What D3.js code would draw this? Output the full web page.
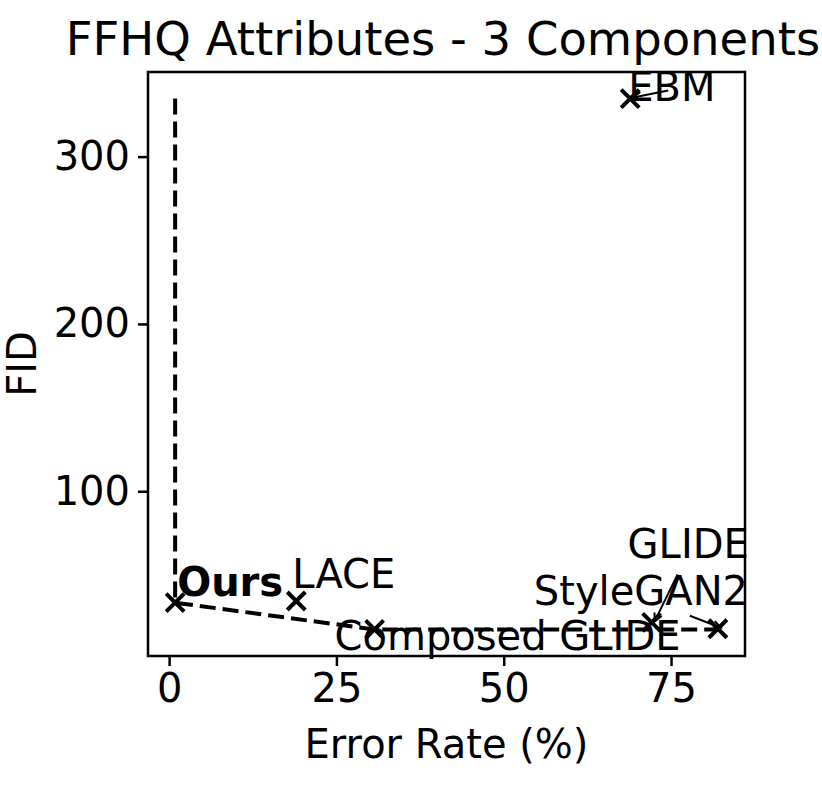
<!DOCTYPE html>
<html>
<head>
<meta charset="utf-8">
<script src="https://cdn.jsdelivr.net/npm/d3@7"></script>
<style>
  html, body { margin: 0; padding: 0; background: #fff; }
  svg { display: block; font-family: "DejaVu Sans", sans-serif; }
</style>
</head>
<body>
<svg id="chart" width="822" height="787"></svg>
<script>
// ---- data ----
const methods   = ["Ours", "LACE", "Composed GLIDE", "GLIDE", "StyleGAN2", "EBM"];
const errorRate = [0.9, 19.0, 30.7, 72.1, 82.0, 68.9];
const fid       = [33.4, 34.4, 17.4, 21.6, 17.8, 334.7];
const xTicks    = [0, 25, 50, 75];
const yTicks    = [100, 200, 300];
const title     = "FFHQ Attributes - 3 Components";
const xLabel    = "Error Rate (%)";
const yLabel    = "FID";

// ---- layout (label placement relative to each point, in px) ----
const labelLayout = {
  "Ours":           { dx: 2,   dy: -7,  bold: true,  arrow: false },
  "LACE":           { dx: -4,  dy: -13, bold: false, arrow: false },
  "Composed GLIDE": { dx: -40, dy: 21,  bold: false, arrow: false },
  "GLIDE":          { dx: -24, dy: -64, bold: false, arrow: { fx: 26, fy: -48 } },
  "StyleGAN2":      { dx: -184,dy: -24, bold: false, arrow: { fx: -28, fy: -13 } },
  "EBM":            { dx: -2,  dy: 2,   bold: false, arrow: { fx: 38, fy: -8 } }
};

const svg = d3.select("#chart");
const M = { left: 148, right: 745, top: 72, bottom: 656 };

const pts = methods.map((m, i) => ({ name: m, x: errorRate[i], y: fid[i] }));
const xExt = d3.extent(errorRate), yExt = d3.extent(fid);
const xPad = (xExt[1] - xExt[0]) * 0.05, yPad = (yExt[1] - yExt[0]) * 0.05;
const x = d3.scaleLinear().domain([xExt[0] - xPad, xExt[1] + xPad]).range([M.left, M.right]);
const y = d3.scaleLinear().domain([yExt[0] - yPad, yExt[1] + yPad]).range([M.bottom, M.top]);

// axes
const xAxis = svg.append("g").attr("transform", `translate(0,${M.bottom})`)
  .call(d3.axisBottom(x).tickValues(xTicks).tickSize(10).tickPadding(8).tickFormat(d3.format("d")));
const yAxis = svg.append("g").attr("transform", `translate(${M.left},0)`)
  .call(d3.axisLeft(y).tickValues(yTicks).tickSize(10).tickPadding(8).tickFormat(d3.format("d")));
[xAxis, yAxis].forEach(g => {
  g.select(".domain").remove();
  g.selectAll(".tick line").attr("stroke", "#000").attr("stroke-width", 2.5);
  g.selectAll(".tick text").attr("fill", "#000").style("font-size", "40px")
    .style("font-family", "DejaVu Sans");
});

// frame
svg.append("rect").attr("x", M.left).attr("y", M.top)
  .attr("width", M.right - M.left).attr("height", M.bottom - M.top)
  .attr("fill", "none").attr("stroke", "#000").attr("stroke-width", 2.5);

// pareto front (non-dominated points), extended to max FID and max error
const front = pts.filter(p => !pts.some(q => q !== p && q.x <= p.x && q.y <= p.y))
  .sort((a, b) => a.x - b.x);
const lineData = [
  { x: front[0].x, y: yExt[1] },
  ...front,
  { x: xExt[1], y: front[front.length - 1].y }
];
svg.append("path").datum(lineData)
  .attr("d", d3.line().x(d => x(d.x)).y(d => y(d.y)))
  .attr("fill", "none").attr("stroke", "#000").attr("stroke-width", 4)
  .attr("stroke-dasharray", "16 7");

// markers
const xSym = { draw(ctx, size) { const r = Math.sqrt(size) / 2;
  ctx.moveTo(-r, -r); ctx.lineTo(r, r); ctx.moveTo(-r, r); ctx.lineTo(r, -r); } };
svg.append("g").selectAll("path").data(pts).join("path")
  .attr("transform", d => `translate(${x(d.x)},${y(d.y)})`)
  .attr("d", d3.symbol().type(xSym).size(324))
  .attr("fill", "none").attr("stroke", "#000").attr("stroke-width", 4);

// arrow marker
svg.append("defs").append("marker").attr("id", "ah")
  .attr("viewBox", "-10 -6 12 12").attr("refX", 0).attr("refY", 0)
  .attr("markerWidth", 12).attr("markerHeight", 12).attr("markerUnits", "userSpaceOnUse")
  .attr("orient", "auto")
  .append("path").attr("d", "M-8,-4 L0,0 L-8,4").attr("fill", "none")
  .attr("stroke", "#000").attr("stroke-width", 2);

// labels
const lab = svg.append("g");
pts.forEach(p => {
  const L = labelLayout[p.name];
  const px = x(p.x), py = y(p.y);
  if (L.arrow) {
    lab.append("line").attr("x1", px + L.arrow.fx).attr("y1", py + L.arrow.fy)
      .attr("x2", px + 3).attr("y2", py - 1)
      .attr("stroke", "#000").attr("stroke-width", 2)
      .attr("marker-end", "url(#ah)");
  }
  lab.append("text").attr("x", px + L.dx).attr("y", py + L.dy)
    .style("font-size", "40px").style("font-weight", L.bold ? "bold" : "normal")
    .attr("fill", "#000").text(p.name);
});

// titles
svg.append("text").attr("x", 443).attr("y", 55)
  .attr("text-anchor", "middle").style("font-size", "46.5px").text(title);
svg.append("text").attr("x", (M.left + M.right) / 2).attr("y", 758)
  .attr("text-anchor", "middle").style("font-size", "40px").text(xLabel);
svg.append("text").attr("transform", `translate(36,${(M.top + M.bottom) / 2}) rotate(-90)`)
  .attr("text-anchor", "middle").style("font-size", "40px").text(yLabel);
</script>
</body>
</html>
